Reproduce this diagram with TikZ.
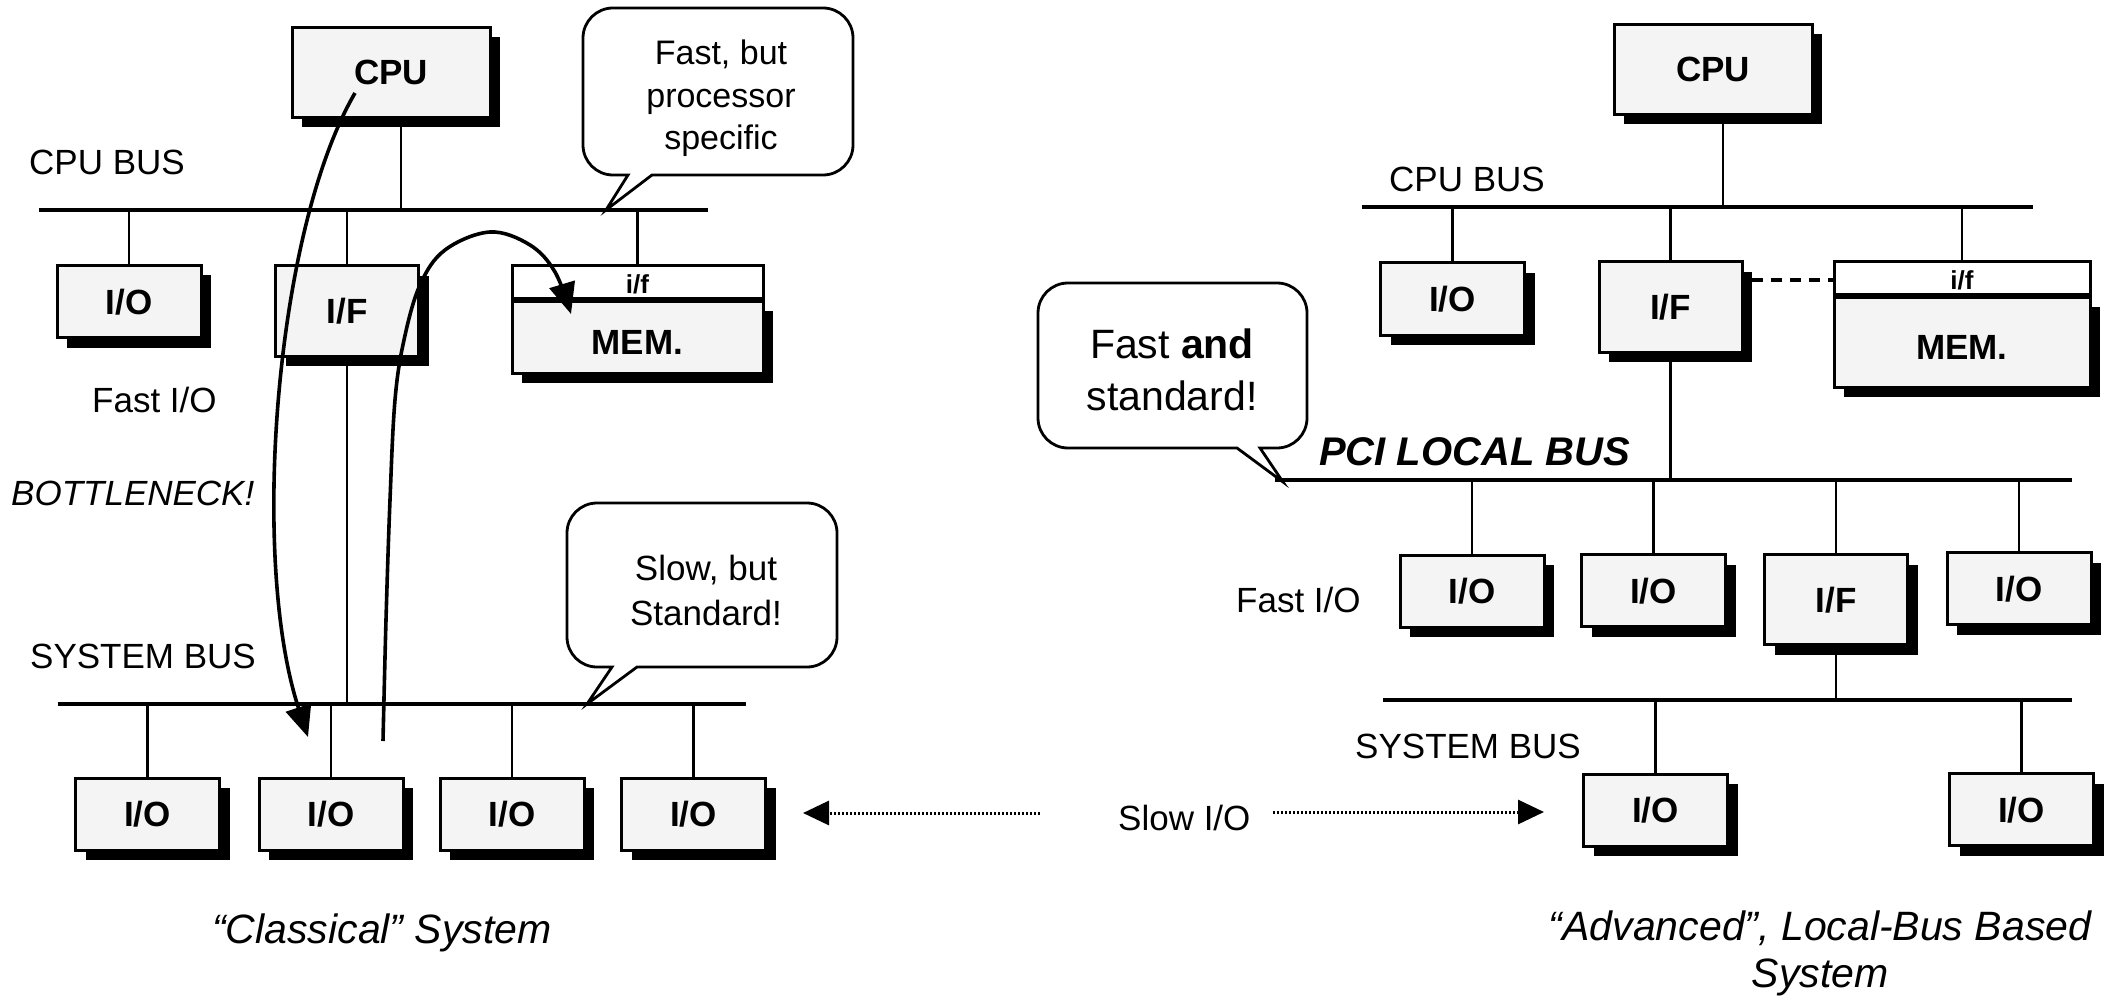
\documentclass[tikz,border=0pt]{standalone}
\usepackage{fontspec}
\setmainfont{Liberation Sans}
\usetikzlibrary{shadows,arrows.meta,calc}
\newcommand\fsbox{\bfseries\fontsize{35}{40}\selectfont}
\newcommand\fsif{\bfseries\fontsize{26}{30}\selectfont}
\newcommand\fslab{\fontsize{35}{42}\selectfont}
\newcommand\fsnoteA{\fontsize{34}{42}\selectfont}
\newcommand\fsnoteB{\fontsize{35}{45}\selectfont}
\newcommand\fsnoteC{\fontsize{41}{52}\selectfont}
\newcommand\fspci{\bfseries\itshape\fontsize{40}{48}\selectfont}
\newcommand\fscap{\itshape\fontsize{41}{48}\selectfont}
% speech bubble: x1 y1 x2 y2, tail base left/right, tail tip x y
\newcommand\bubble[8]{%
  \draw[bubbleline] (#1+30,#2) -- (#3-30,#2) arc[start angle=270,end angle=360,radius=30]
    -- (#3,#4-30) arc[start angle=0,end angle=90,radius=30]
    -- (#6,#4) -- (#7,#8) -- (#5,#4)
    -- (#1+30,#4) arc[start angle=90,end angle=180,radius=30]
    -- (#1,#2+30) arc[start angle=180,end angle=270,radius=30] -- cycle;}
\begin{document}
\begin{tikzpicture}[x=1pt,y=-1pt,
  unit/.style={draw,line width=3pt,fill=gray!9,inner sep=0pt,font=\fsbox,
    text height=25pt,text depth=0pt,
    drop shadow={shadow xshift=10pt,shadow yshift=-10pt,opacity=1,fill=black}},
  iobox/.style={unit,minimum width=144pt,minimum height=72pt},
  ifbox/.style={unit,minimum width=143pt,minimum height=90pt},
  cpubox/.style={unit,minimum width=198pt,minimum height=90pt},
  memhead/.style={draw,line width=3pt,fill=white,inner sep=0pt,font=\fsif,
    text height=19pt,text depth=0pt,minimum height=35pt},
  membody/.style={unit,text height=35pt},
  bus/.style={line width=4pt},
  wire/.style={line width=2.6pt},
  lab/.style={inner sep=0pt,font=\fslab},
  note/.style={inner sep=0pt,anchor=base},
  bubbleline/.style={draw,line width=2.8pt,fill=white},
  flow/.style={line width=3.6pt,-{Triangle[length=31pt,width=26pt]}},
  dotflow/.style={line width=3pt,dash pattern=on 2pt off 2pt,-{Triangle[length=26pt,width=24pt]}},
  dashline/.style={line width=3.5pt,dash pattern=on 11pt off 8pt}
]
\fill[white] (0,0) rectangle (2119,1000);
\useasboundingbox (0,0) rectangle (2119,1000);

% ---------- classical system ----------
\node[cpubox] (cpuL) at (391,72.5) {CPU};
\node[iobox] (ioL) at (129,301.5) {I/O};
\node[ifbox] (ifL) at (347,311) {I/F};
\node[memhead,minimum width=251pt] (memLhd) at (637.5,283.5) {i/f};
\node[membody,minimum width=251pt,minimum height=72pt] (memL) at (637.5,337) {MEM.};
\draw[line width=6pt] (memL.north west) -- (memL.north east);
\node[iobox] (ioB1) at (147.5,814) {I/O};
\node[iobox] (ioB2) at (331,814) {I/O};
\node[iobox] (ioB3) at (512,814) {I/O};
\node[iobox] (ioB4) at (693.5,814) {I/O};

% ---------- local-bus system ----------
\node[cpubox] (cpuR) at (1713,69.5) {CPU};
\node[iobox] (ioR) at (1452.5,299) {I/O};
\node[ifbox] (ifR) at (1670.5,307) {I/F};
\node[memhead,minimum width=256pt] (memRhd) at (1962,279.5) {i/f};
\node[membody,minimum width=256pt,minimum height=90pt] (memR) at (1962,342) {MEM.};
\draw[line width=6pt] (memR.north west) -- (memR.north east);
\node[iobox] (pIo1) at (1472,591) {I/O};
\node[iobox] (pIo2) at (1653.5,590.5) {I/O};
\node[ifbox] (pIf) at (1836,599.5) {I/F};
\node[iobox] (pIo3) at (2019,588.5) {I/O};
\node[iobox] (sIo1) at (1655.5,810) {I/O};
\node[iobox] (sIo2) at (2021.5,809.5) {I/O};

% ---------- buses ----------
\coordinate (cbLa) at (39,210);   \coordinate (cbLb) at (708,210);
\coordinate (sbLa) at (58,704);   \coordinate (sbLb) at (746,704);
\coordinate (cbRa) at (1362,207); \coordinate (cbRb) at (2033,207);
\coordinate (pbRa) at (1275,480); \coordinate (pbRb) at (2072,480);
\coordinate (sbRa) at (1383,700); \coordinate (sbRb) at (2072,700);
\draw[bus] (cbLa) -- (cbLb);
\draw[bus] (sbLa) -- (sbLb);
\draw[bus] (cbRa) -- (cbRb);
\draw[bus] (pbRa) -- (pbRb);
\draw[bus] (sbRa) -- (sbRb);

% ---------- bus taps ----------
\coordinate (cpuLd) at ($(cpuL.south)+(10,0)$);
\draw[wire] (cpuLd) -- (cpuLd |- cbLa);
\foreach \n in {ioL,ifL,memLhd} \draw[wire] (\n.north) -- (\n.north |- cbLa);
\draw[wire] (ifL.south) -- (ifL.south |- sbLa);
\foreach \n in {ioB1,ioB2,ioB3,ioB4} \draw[wire] (\n.north) -- (\n.north |- sbLa);

\coordinate (cpuRd) at ($(cpuR.south)+(10,0)$);
\draw[wire] (cpuRd) -- (cpuRd |- cbRa);
\foreach \n in {ioR,ifR,memRhd} \draw[wire] (\n.north) -- (\n.north |- cbRa);
\draw[wire] (ifR.south) -- (ifR.south |- pbRa);
\foreach \n in {pIo1,pIo2,pIf,pIo3} \draw[wire] (\n.north) -- (\n.north |- pbRa);
\draw[wire] (pIf.south) -- (pIf.south |- sbRa);
\foreach \n in {sIo1,sIo2} \draw[wire] (\n.north) -- (\n.north |- sbRa);

\coordinate (dashA) at (1752,280);
\draw[dashline] (dashA) -- (dashA -| memRhd.west);

% ---------- speech bubbles ----------
\bubble{583}{8}{853}{175}{628}{652}{606}{210}
\bubble{567}{503}{837}{667}{612}{637}{587}{704}
\bubble{1038}{283}{1307}{448}{1237}{1260}{1283}{482}

\node[note,font=\fsnoteA] (nA1) at (721,65) {Fast, but};
\node[note,font=\fsnoteA] (nA2) at (721,108) {processor};
\node[note,font=\fsnoteA] (nA3) at (721,150) {specific};
\node[note,font=\fsnoteB] (nB1) at (706,580) {Slow, but};
\node[note,font=\fsnoteB] (nB2) at (706,625) {Standard!};
\node[note,font=\fsnoteC] (nC1) at (1172,358) {Fast \textbf{and}};
\node[note,font=\fsnoteC] (nC2) at (1172,410) {standard!};

% ---------- labels ----------
\node[lab,anchor=base west] (cpubusL) at (29,175) {CPU BUS};
\node[lab,anchor=base west] (fastioL) at (92,412) {Fast I/O};
\node[lab,anchor=base west,font=\fslab\itshape] (bneck) at (11,505) {BOTTLENECK!};
\node[lab,anchor=base west] (sysbusL) at (30,668) {SYSTEM BUS};
\node[lab,anchor=base west] (cpubusR) at (1389,192) {CPU BUS};
\node[inner sep=0pt,font=\fspci,anchor=base west] (pcibus) at (1319,465) {PCI LOCAL BUS};
\node[lab,anchor=base west] (fastioR) at (1236,612) {Fast I/O};
\node[lab,anchor=base west] (sysbusR) at (1355,758) {SYSTEM BUS};
\node[lab,anchor=base west] (slowio) at (1118,830) {Slow I/O};

\node[note,font=\fscap] (capL) at (382,943) {``Classical'' System};
\node[note,font=\fscap] (capR1) at (1820,940) {``Advanced'', Local-Bus Based};
\node[note,font=\fscap] (capR2) at (1820,987) {System};

% ---------- slow I/O pointers ----------
\coordinate (slowLs) at (1040,813); \coordinate (slowLe) at (803,813);
\coordinate (slowRs) at (1273,812); \coordinate (slowRe) at (1544,812);
\draw[dotflow] (slowLs) -- (slowLe);
\draw[dotflow] (slowRs) -- (slowRe);

% ---------- data paths ----------
\coordinate (aS) at (355,93); \coordinate (aE) at (308,737);
\draw[flow] (aS) .. controls (275,230) and (250,560) .. (aE);
\coordinate (bS) at (383,741); \coordinate (bE) at (571,314);
\draw[flow] plot[smooth,tension=0.6] coordinates
  {(bS) (386,620) (390,500) (395,400) (404,340) (420,285) (445,250) (490,232) (530,245) (555,272) (bE)};
\end{tikzpicture}
\end{document}
